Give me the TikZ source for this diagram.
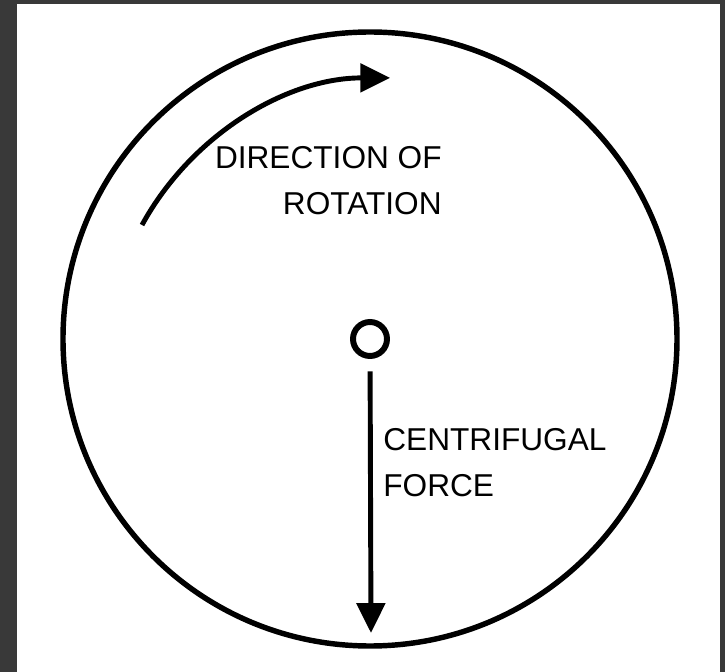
\documentclass[tikz,border=0pt]{standalone}
\usepackage{fontspec}
\setmainfont{Liberation Sans}
\usetikzlibrary{arrows.meta}

\definecolor{framegray}{RGB}{57,57,57}

\begin{document}
\begin{tikzpicture}[x=0.02cm,y=-0.02cm,>={Triangle[length=17pt,width=16pt]},
    wheel/.style={line width=3.1pt},
    force/.style={->,line width=2.8pt},
    lbl/.style={inner sep=0pt,font=\fontsize{18}{26.6}\selectfont}]
  \fill[framegray] (0,0) rectangle (725,672);
  \fill[white] (17,4) rectangle (720,672);
  \draw[wheel] (370,339) circle[radius=307];
  \node[circle,draw,line width=3.4pt,minimum size=0.68cm,inner sep=0pt] (hub) at (370,339) {};
  \coordinate (forcetip) at (371,633);
  \draw[force,shorten <=7pt] (hub) -- (forcetip);
  \coordinate (rotstart) at (142,225);
  \draw[force] (rotstart) arc[start angle=208.7,end angle=270,radius=283];
  \node[lbl,align=right,anchor=base east] (rotlbl) at (442,215) {DIRECTION OF\\ROTATION};
  \node[lbl,align=left,anchor=base west] (forcelbl) at (383,497) {CENTRIFUGAL\\FORCE};
\end{tikzpicture}
\end{document}
